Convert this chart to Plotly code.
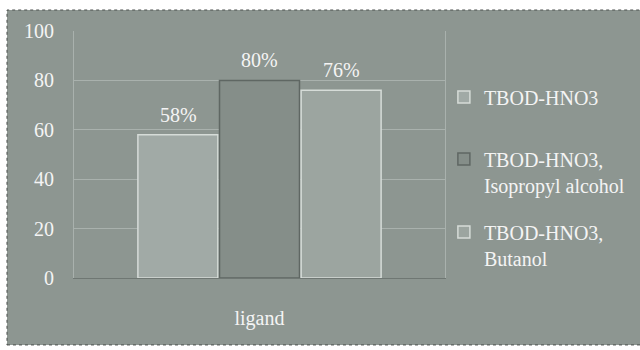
import plotly.graph_objects as go

categories = ["ligand"]
series_names = ["TBOD-HNO3", "TBOD-HNO3,<br>Isopropyl alcohol", "TBOD-HNO3,<br>Butanol"]
series_values = [[58], [80], [76]]
value_labels = ["58%", "80%", "76%"]
bar_colors = ["#a1aaa6", "#858e89", "#9ca5a0"]
bar_lines = ["#d6dcd8", "#5f6763", "#d6dcd8"]
y_ticks = [0, 20, 40, 60, 80, 100]

FONT = "Liberation Serif"
TXT = "#f4f4f4"
legend_ids = ["legend", "legend2", "legend3"]
legend_y = [0.812, 0.561, 0.265]

fig = go.Figure()
for name, vals, col, lc, lg in zip(series_names, series_values, bar_colors, bar_lines, legend_ids):
    fig.add_trace(go.Bar(
        x=categories, y=vals, name=name,
        marker=dict(color=col, line=dict(color=lc, width=1.5)),
        legend=lg,
    ))

# value labels above bars
for i, (vals, lab) in enumerate(zip(series_values, value_labels)):
    fig.add_annotation(
        x=categories[0], y=vals[0], text=lab, showarrow=False,
        xref="x", yref="y", yanchor="bottom", yshift=7,
        xshift=(i - 1) * 81.5,
        font=dict(family=FONT, size=20, color=TXT),
    )

# outer chart background (scanned panel)
fig.add_shape(type="rect", xref="paper", yref="paper",
              x0=-0.1806, x1=1.53, y0=-0.271, y1=1.085,
              fillcolor="#8d9691", line=dict(color="#4a4f4c", width=1, dash="dot"),
              layer="below")

legend_common = dict(
    x=0.997, xanchor="left", yanchor="top",
    bgcolor="rgba(0,0,0,0)", valign="top",
    font=dict(family=FONT, size=20, color=TXT),
    itemwidth=30,
)

fig.update_layout(
    width=640, height=350,
    margin=dict(l=74, r=195, t=31, b=72, autoexpand=False),
    paper_bgcolor="#ffffff",
    plot_bgcolor="#8a938e",
    barmode="group", bargap=0.34, bargroupgap=0.02,
    font=dict(family=FONT, size=20, color=TXT),
    showlegend=True,
    legend=dict(y=legend_y[0], **legend_common),
    legend2=dict(y=legend_y[1], **legend_common),
    legend3=dict(y=legend_y[2], **legend_common),
    xaxis=dict(
        showgrid=False, showline=True, linecolor="#6f7773",
        ticks="", ticklabelstandoff=22, mirror=False,
        tickfont=dict(family=FONT, size=20, color=TXT),
    ),
    yaxis=dict(
        range=[0, 100], tickvals=y_ticks, showgrid=True,
        gridcolor="#a9b1ad", gridwidth=1, zeroline=False,
        showline=True, linecolor="#a9b1ad", mirror=True,
        ticks="", ticklabelstandoff=15,
        tickfont=dict(family=FONT, size=20, color=TXT),
    ),
)

fig.write_html("out.html")
